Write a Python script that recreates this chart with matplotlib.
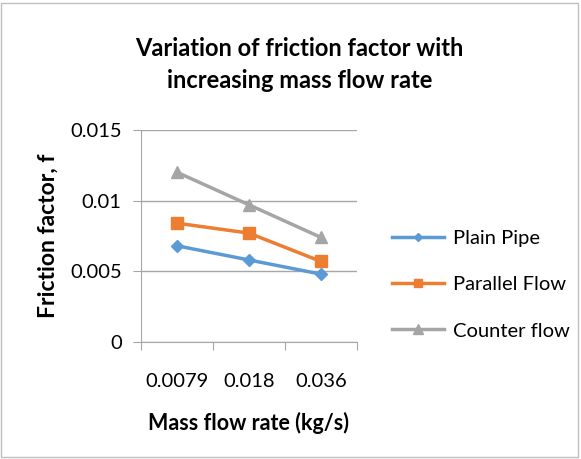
import matplotlib
matplotlib.use("Agg")
import matplotlib.pyplot as plt
from matplotlib.patches import Rectangle

categories = ["0.0079", "0.018", "0.036"]
plain_pipe = [0.0068, 0.0058, 0.0048]
parallel_flow = [0.0084, 0.0077, 0.0057]
counter_flow = [0.0120, 0.0097, 0.0074]
y_ticks = [0, 0.005, 0.01, 0.015]
y_labels = ["0", "0.005", "0.01", "0.015"]

plt.rcParams["font.family"] = ["Lato", "DejaVu Sans"]

fig = plt.figure(figsize=(5.81, 4.59), dpi=100)
ax = fig.add_axes([0.243, 0.255, 0.371, 0.462])

fig.patches.append(Rectangle((0.002, 0.004), 0.993, 0.99, transform=fig.transFigure,
                             fill=False, edgecolor="#bfbfbf", linewidth=1))

x = range(len(categories))
ax.plot(x, plain_pipe, color="#5b9bd5", marker="D", markersize=6, linewidth=2.5, label="Plain Pipe")
ax.plot(x, parallel_flow, color="#ed7d31", marker="s", markersize=8, linewidth=2.5, label="Parallel Flow")
ax.plot(x, counter_flow, color="#a5a5a5", marker="^", markersize=9, linewidth=2.5, label="Counter flow")

ax.set_xlim(-0.5, 2.5)
ax.set_ylim(0, 0.015)
ax.set_xticks([-0.5, 0.5, 1.5, 2.5])
ax.set_xticklabels([])
ax.set_xticks(list(x), minor=True)
ax.set_xticklabels(categories, minor=True, fontsize=14.5)
ax.tick_params(axis="x", which="minor", length=0, pad=22)
ax.tick_params(axis="x", which="major", length=6, color="#a6a6a6")
ax.set_yticks(y_ticks)
ax.set_yticklabels(y_labels, fontsize=14.5)
ax.tick_params(axis="y", length=6, color="#a6a6a6", pad=8)

ax.grid(axis="y", color="#a6a6a6", linewidth=1)
ax.set_axisbelow(True)
for s in ["top", "right"]:
    ax.spines[s].set_visible(False)
ax.spines["left"].set_color("#a6a6a6")
ax.spines["bottom"].set_color("#a6a6a6")

ax.set_xlabel("Mass flow rate (kg/s)", fontsize=15.5, fontweight="bold", labelpad=16)
ax.set_ylabel("Friction factor, f", fontsize=16.5, fontweight="bold", labelpad=8)
fig.text(0.515, 0.86, "Variation of friction factor with\nincreasing mass flow rate",
         ha="center", va="center", fontsize=17, fontweight="bold", linespacing=1.45)

ax.legend(loc="center left", bbox_to_anchor=(1.08, 0.27), frameon=False, fontsize=14.5,
          labelspacing=1.45, handlelength=2.6, handletextpad=0.4,
          markerscale=0.75)

fig.savefig("out.png", dpi=100)
